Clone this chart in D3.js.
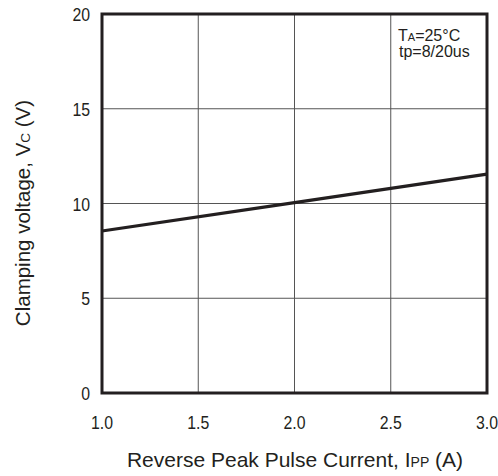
<!DOCTYPE html>
<html>
<head>
<meta charset="utf-8">
<style>
    body { margin: 0; background: #fff; }
    text { font-family: "Liberation Sans", Arial, sans-serif; fill: #231f20; }
</style>
</head>
<body>
<svg id="chart"></svg>
<script src="https://cdn.jsdelivr.net/npm/d3@7"></script>
<script>
    const currentA = [1.0, 2.0, 3.0];
    const clampV = [8.55, 10.05, 11.55];
    const xTicks = [1.0, 1.5, 2.0, 2.5, 3.0];
    const yTicks = [0, 5, 10, 15, 20];

    const width = 498, height = 476;
    const plotL = 102, plotR = 487, plotT = 14, plotB = 393;

    const svg = d3.select("#chart").attr("width", width).attr("height", height);

    const x = d3.scaleLinear().domain([1, 3]).range([plotL, plotR]);
    const y = d3.scaleLinear().domain([0, 20]).range([plotB, plotT]);

    // grid
    svg.append("g").selectAll("line").data(xTicks.slice(1, -1)).join("line")
        .attr("x1", d => x(d)).attr("x2", d => x(d))
        .attr("y1", plotT).attr("y2", plotB)
        .attr("stroke", "#555").attr("stroke-width", 1);
    svg.append("g").selectAll("line").data(yTicks.slice(1, -1)).join("line")
        .attr("x1", plotL).attr("x2", plotR)
        .attr("y1", d => y(d)).attr("y2", d => y(d))
        .attr("stroke", "#555").attr("stroke-width", 1);

    // tick labels (narrow-looking digits in the original)
    svg.append("g").selectAll("text").data(xTicks).join("text")
        .attr("transform", d => `translate(${x(d)},429) scale(0.88,1)`)
        .attr("text-anchor", "middle").attr("font-size", 18)
        .text(d => d.toFixed(1));
    svg.append("g").selectAll("text").data(yTicks).join("text")
        .attr("transform", d => `translate(90,${y(d) + 7}) scale(0.88,1)`)
        .attr("text-anchor", "end").attr("font-size", 18)
        .text(d => d);

    // curve
    const line = d3.line().x((d, i) => x(currentA[i])).y(d => y(d));
    svg.append("path").datum(clampV)
        .attr("d", line).attr("fill", "none")
        .attr("stroke", "#231f20").attr("stroke-width", 3.2);

    // frame
    svg.append("rect")
        .attr("x", plotL).attr("y", plotT)
        .attr("width", plotR - plotL).attr("height", plotB - plotT)
        .attr("fill", "none").attr("stroke", "#231f20").attr("stroke-width", 3);

    // annotation
    const ann = svg.append("text").attr("x", 398).attr("y", 41).attr("font-size", 16);
    ann.append("tspan").text("T");
    ann.append("tspan").attr("font-size", 11).text("A");
    ann.append("tspan").text("=25°C");
    svg.append("text").attr("x", 399).attr("y", 57).attr("font-size", 16).text("tp=8/20us");

    // axis titles
    const xt = svg.append("text").attr("x", 295).attr("y", 467)
        .attr("text-anchor", "middle").attr("font-size", 21);
    xt.append("tspan").text("Reverse Peak Pulse Current, I");
    xt.append("tspan").attr("font-size", 14).text("PP");
    xt.append("tspan").text(" (A)");

    const yt = svg.append("text")
        .attr("transform", "translate(30,213) rotate(-90)")
        .attr("text-anchor", "middle").attr("font-size", 20.5);
    yt.append("tspan").text("Clamping voltage, V");
    yt.append("tspan").attr("font-size", 13.5).text("C");
    yt.append("tspan").text(" (V)");
</script>
</body>
</html>
